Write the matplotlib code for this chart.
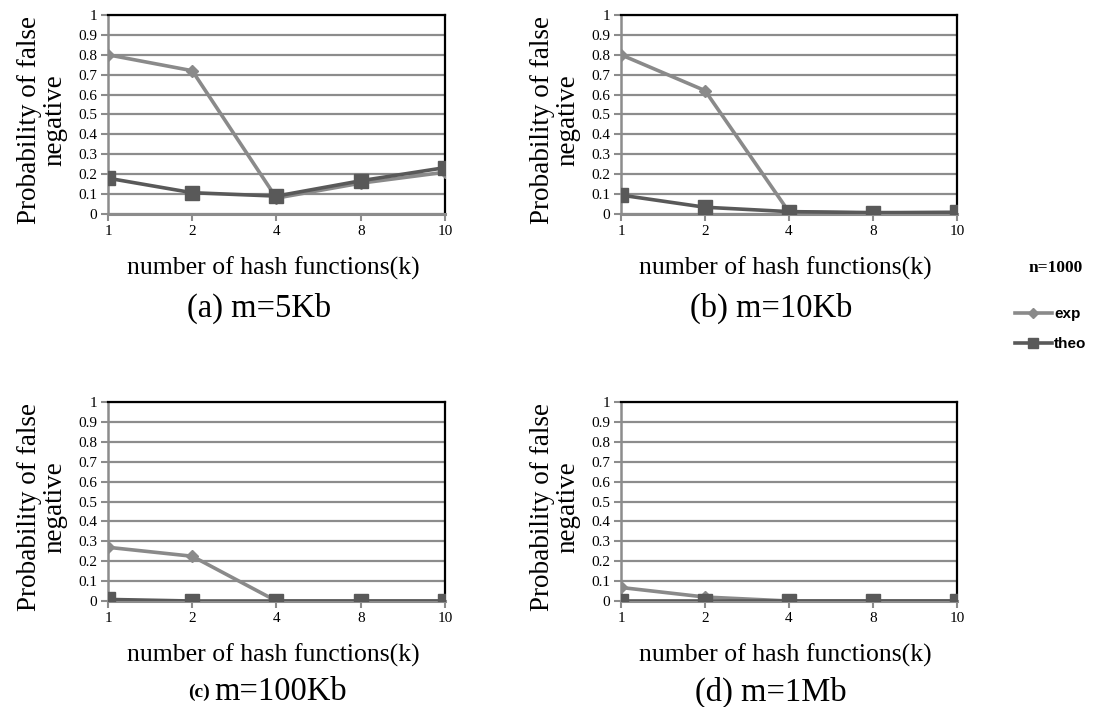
import matplotlib.pyplot as plt

# number of hash functions, used as categories on the x axis
k_labels = ['1', '2', '4', '8', '10']

panel_titles = ['(a) m=5Kb', '(b) m=10Kb', '(c) m=100Kb', '(d) m=1Mb']

# experimental false negative probability for each filter size
exp_5kb = [0.80, 0.72, 0.08, 0.155, 0.21]
exp_10kb = [0.80, 0.62, 0.01, 0.005, 0.008]
exp_100kb = [0.27, 0.225, 0.0, 0.0, 0.0]
exp_1mb = [0.068, 0.02, 0.0, 0.0, 0.0]

# theoretical values
theo_5kb = [0.18, 0.107, 0.09, 0.167, 0.233]
theo_10kb = [0.095, 0.034, 0.012, 0.007, 0.008]
theo_100kb = [0.008, 0.0, 0.0, 0.0, 0.0]
theo_1mb = [0.0, 0.0, 0.0, 0.0, 0.0]

exp_series = [exp_5kb, exp_10kb, exp_100kb, exp_1mb]
theo_series = [theo_5kb, theo_10kb, theo_100kb, theo_1mb]

EXP_COLOR = '#8a8a8a'
THEO_COLOR = '#595959'
GRID_COLOR = '#8c8c8c'
SERIF = 'Liberation Serif'
SANS = 'Liberation Sans'

fig = plt.figure(figsize=(10.93, 7.07), dpi=100)

# axes boxes in figure fractions: left, bottom, width, height
boxes = [
    (0.0988, 0.6973, 0.3083, 0.2815),
    (0.5682, 0.6973, 0.3074, 0.2815),
    (0.0988, 0.1499, 0.3083, 0.2815),
    (0.5682, 0.1499, 0.3074, 0.2815),
]

lines = None
for i, box in enumerate(boxes):
    ax = fig.add_axes(box)
    ax.set_axisbelow(True)
    ln_exp, = ax.plot(k_labels, exp_series[i], color=EXP_COLOR, lw=2.6,
                      marker='D', markersize=6.5, zorder=3, label='exp')
    ln_theo, = ax.plot(k_labels, theo_series[i], color=THEO_COLOR, lw=2.6,
                       marker='s', markersize=10.5, zorder=4, label='theo')
    if lines is None:
        lines = [ln_exp, ln_theo]

    ax.set_xlim(0, 4)
    ax.set_ylim(0, 1)
    ax.set_yticks([j / 10 for j in range(11)])
    ax.set_yticklabels(['0', '0.1', '0.2', '0.3', '0.4', '0.5', '0.6',
                        '0.7', '0.8', '0.9', '1'])
    ax.yaxis.grid(True, color=GRID_COLOR, lw=1.6)
    ax.xaxis.grid(False)

    ax.spines['left'].set_color(GRID_COLOR)
    ax.spines['left'].set_linewidth(1.8)
    ax.spines['bottom'].set_color(GRID_COLOR)
    ax.spines['bottom'].set_linewidth(2.2)
    ax.spines['top'].set_color('black')
    ax.spines['top'].set_linewidth(1.6)
    ax.spines['right'].set_color('black')
    ax.spines['right'].set_linewidth(1.6)
    for sp in ax.spines.values():
        sp.set_zorder(2)

    ax.tick_params(axis='both', direction='out', length=5, width=1.5,
                   color=GRID_COLOR, labelsize=11, pad=3)
    for lab in ax.get_xticklabels() + ax.get_yticklabels():
        lab.set_fontfamily(SERIF)

    ax.set_ylabel('Probability of false\nnegative', fontsize=19.5,
                  family=SERIF, linespacing=1.05)
    ax.yaxis.set_label_coords(-0.12, 0.47)
    ax.set_xlabel('number of hash functions(k)', fontsize=18.5, family=SERIF)
    ax.xaxis.set_label_coords(0.49, -0.215)

    # sub-figure caption; (c) carries a small bold prefix
    if i == 2:
        ax.text(0.303, -0.46, '(c)', transform=ax.transAxes, fontsize=14,
                fontweight='bold', family=SERIF, ha='right', va='center')
        ax.text(0.315, -0.455, 'm=100Kb', transform=ax.transAxes,
                fontsize=23.5, family=SERIF, ha='left', va='center')
    else:
        y_cap = -0.475 if i < 2 else -0.46
        ax.text(0.447, y_cap, panel_titles[i], transform=ax.transAxes,
                fontsize=23.5, family=SERIF, ha='center', va='center')

# shared legend on the right
fig.text(0.9655, 0.621, 'n=1000', fontsize=12.5, fontweight='bold',
         family=SERIF, ha='center', va='center')
fig.legend(handles=lines, labels=['exp', 'theo'], loc='upper left',
           bbox_to_anchor=(0.916, 0.585), frameon=False,
           prop={'family': SANS, 'weight': 'bold', 'size': 11},
           handlelength=2.4, handletextpad=0.15, labelspacing=1.05,
           markerscale=0.75)

fig.savefig('out.png', dpi=100)
